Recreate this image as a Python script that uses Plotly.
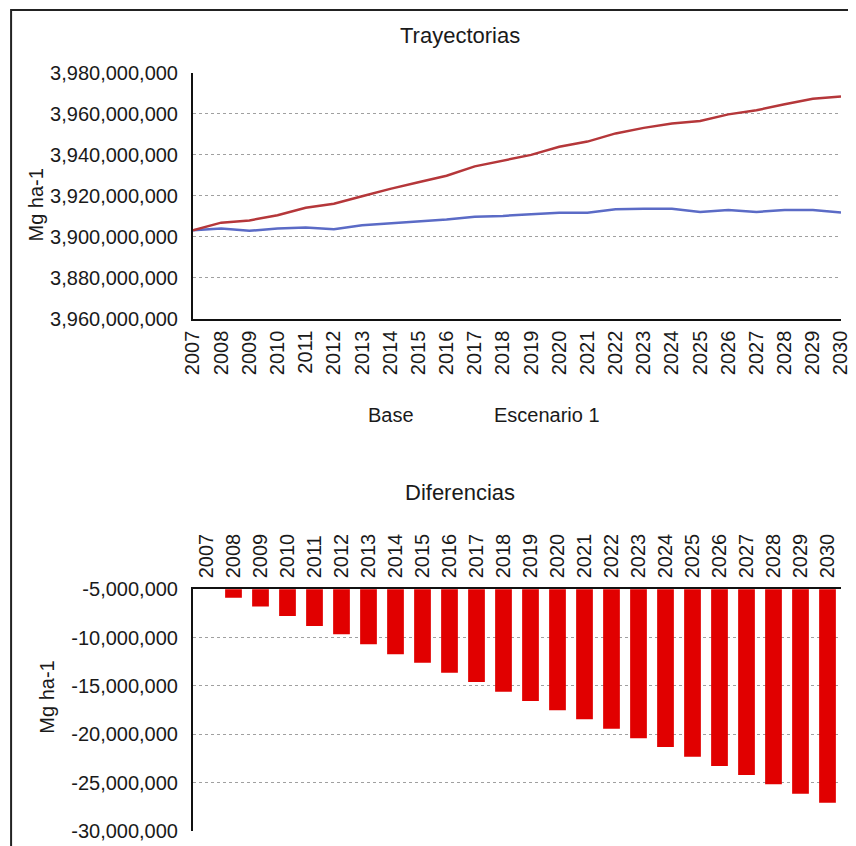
import plotly.graph_objects as go

# Years (categories)
years = [str(y) for y in range(2007, 2031)]

# Trajectories, in millions of Mg ha-1
escenario_1 = [3903.2, 3906.9, 3908.0, 3910.5, 3914.2, 3916.1, 3919.8, 3923.4,
               3926.6, 3929.8, 3934.4, 3937.3, 3940.0, 3944.0, 3946.5, 3950.5,
               3953.2, 3955.3, 3956.6, 3959.8, 3961.8, 3964.7, 3967.4, 3968.5]
base = [3903.2, 3904.0, 3902.9, 3904.0, 3904.5, 3903.7, 3905.6, 3906.6,
        3907.3, 3908.5, 3909.8, 3910.2, 3911.0, 3911.8, 3911.8, 3913.4,
        3913.7, 3913.7, 3912.1, 3913.1, 3912.1, 3913.1, 3913.1, 3911.8]

# Differences, in millions
diferencias = [0.0, -5.86, -6.79, -7.76, -8.79, -9.66, -10.69, -11.72,
               -12.59, -13.62, -14.59, -15.59, -16.55, -17.52, -18.45, -19.41,
               -20.41, -21.31, -22.31, -23.28, -24.21, -25.17, -26.14, -27.07]

# Axis ticks
top_ticks = [3860, 3880, 3900, 3920, 3940, 3960, 3980]
top_ticktext = ["3,960,000,000", "3,880,000,000", "3,900,000,000", "3,920,000,000",
                "3,940,000,000", "3,960,000,000", "3,980,000,000"]
bottom_ticks = [-5, -10, -15, -20, -25, -30]

M = 1_000_000

fig = go.Figure()

fig.add_trace(go.Scatter(x=years, y=[v * M for v in base], mode="lines", name="Base",
                         line=dict(color="#5b6bc6", width=2.5), xaxis="x", yaxis="y"))
fig.add_trace(go.Scatter(x=years, y=[v * M for v in escenario_1], mode="lines", name="Escenario 1",
                         line=dict(color="#b5373a", width=2.5), xaxis="x", yaxis="y"))
fig.add_trace(go.Bar(x=years, y=[v * M for v in diferencias], name="Diferencias",
                     marker=dict(color="#e10000", line=dict(width=0)), xaxis="x2", yaxis="y2"))

# paper coords (given in reference pixels): plot area x 193..852, y 73..832
def px_x(p):
    return (p - 193) / 659


def px_y(p):
    return (832 - p) / 759


font_family = "Liberation Sans, Arial, sans-serif"
grid = dict(showgrid=True, gridcolor="#a0a0a0", griddash="dot", gridwidth=1)

fig.update_layout(
    width=848,
    height=838,
    margin=dict(l=185, r=4, t=65, b=14),
    paper_bgcolor="white",
    plot_bgcolor="white",
    showlegend=False,
    font=dict(family=font_family, size=20, color="#1a1a1a"),
    bargap=0.38,
    xaxis=dict(type="category", domain=[0, 1], anchor="y", tickangle=-90,
               showline=True, linecolor="#111", linewidth=2, showgrid=False,
               ticks="outside", ticklen=0, ticklabelstandoff=2),
    yaxis=dict(domain=[px_y(319), 1], anchor="x", range=[3860 * M, 3980 * M],
               tickvals=[t * M for t in top_ticks], ticktext=top_ticktext,
               showline=True, linecolor="#111", linewidth=2, zeroline=False,
               ticks="outside", ticklen=0, ticklabelstandoff=9, **grid),
    xaxis2=dict(type="category", domain=[0, 1], anchor="y2", side="top", tickangle=-90,
                showline=True, linecolor="#111", linewidth=2, showgrid=False,
                ticks="outside", ticklen=0, ticklabelstandoff=5),
    yaxis2=dict(domain=[0, px_y(590)], anchor="x2", range=[-30 * M, -5 * M],
                tickvals=[t * M for t in bottom_ticks],
                ticktext=[f"{t * M:,}" for t in bottom_ticks],
                showline=True, linecolor="#111", linewidth=2, zeroline=False,
                ticks="outside", ticklen=0, ticklabelstandoff=9, **grid),
)

ann = dict(xref="paper", yref="paper", showarrow=False, xanchor="center", yanchor="middle")
fig.add_annotation(text="Trayectorias", x=px_x(465), y=px_y(35), font=dict(size=22), **ann)
fig.add_annotation(text="Diferencias", x=px_x(465), y=px_y(493), font=dict(size=22), **ann)
fig.add_annotation(text="Base", x=px_x(394), y=px_y(415), **ann)
fig.add_annotation(text="Escenario 1", x=px_x(553), y=px_y(415), **ann)
fig.add_annotation(text="Mg ha-1", x=px_x(33), y=px_y(205), textangle=-90, **ann)
fig.add_annotation(text="Mg ha-1", x=px_x(45), y=px_y(698), textangle=-90, **ann)

# outer frame (only top and left edges fall inside the picture)
fig.add_shape(type="rect", xref="paper", yref="paper",
              x0=px_x(8), x1=px_x(880), y0=px_y(880), y1=px_y(10),
              line=dict(color="#222", width=2))

fig.write_html("out.html")
